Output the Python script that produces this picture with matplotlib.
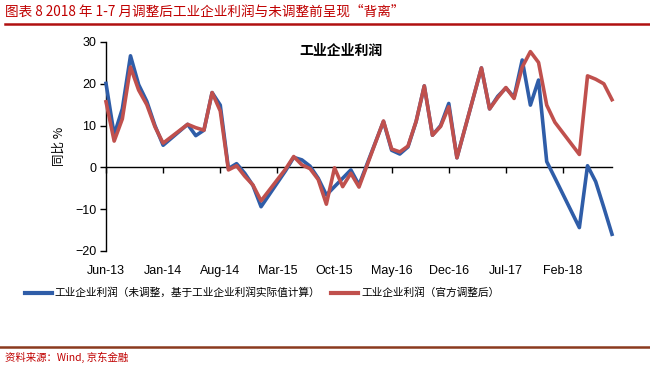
import numpy as np
import matplotlib
matplotlib.use("Agg")
import matplotlib.pyplot as plt
from matplotlib.lines import Line2D

plt.rcParams['font.family'] = ['Liberation Sans', 'Noto Sans CJK SC', 'DejaVu Sans']

# Monthly data May-13 .. Jul-18 (Jan/Feb not published -> None)
months = ["May-13", "Jun-13", "Jul-13", "Aug-13", "Sep-13", "Oct-13", "Nov-13", "Dec-13",
          "Jan-14", "Feb-14", "Mar-14", "Apr-14", "May-14", "Jun-14", "Jul-14", "Aug-14",
          "Sep-14", "Oct-14", "Nov-14", "Dec-14", "Jan-15", "Feb-15", "Mar-15", "Apr-15",
          "May-15", "Jun-15", "Jul-15", "Aug-15", "Sep-15", "Oct-15", "Nov-15", "Dec-15",
          "Jan-16", "Feb-16", "Mar-16", "Apr-16", "May-16", "Jun-16", "Jul-16", "Aug-16",
          "Sep-16", "Oct-16", "Nov-16", "Dec-16", "Jan-17", "Feb-17", "Mar-17", "Apr-17",
          "May-17", "Jun-17", "Jul-17", "Aug-17", "Sep-17", "Oct-17", "Nov-17", "Dec-17",
          "Jan-18", "Feb-18", "Mar-18", "Apr-18", "May-18", "Jun-18", "Jul-18"]

unadjusted = [20.1, 7.8, 14.0, 26.7, 19.8, 15.8, 10.0, 5.3,
              None, None, 10.3, 7.6, 8.9, 17.9, 14.9, -0.3,
              0.9, -1.4, -4.3, -9.4, None, None, -0.8, 2.4,
              1.8, 0.3, -2.6, -6.6, -4.6, -2.6, -0.6, -4.2,
              None, None, 11.0, 4.1, 3.2, 4.9, 11.0, 19.5,
              7.7, 10.0, 15.3, 2.3, None, None, 23.8, 14.0,
              17.0, 19.0, 16.8, 25.7, 14.9, 20.9, 1.4, -2.5,
              None, None, -14.4, 0.4, -3.4, -9.6, -16.0]

official = [15.7, 6.3, 11.6, 24.0, 18.5, 15.0, 9.7, 5.8,
            None, None, 10.3, 9.5, 8.9, 17.9, 13.5, -0.6,
            0.4, -2.1, -4.2, -8.0, None, None, -0.4, 2.6,
            0.6, -0.3, -2.9, -8.8, -0.1, -4.6, -1.4, -4.7,
            None, None, 11.1, 4.4, 3.7, 5.1, 11.0, 19.5,
            7.7, 9.8, 14.5, 2.3, None, None, 23.8, 14.0,
            16.7, 19.1, 16.5, 24.0, 27.7, 25.1, 14.9, 10.8,
            None, None, 3.1, 21.9, 21.1, 20.0, 16.2]

tick_labels = ["Jun-13", "Jan-14", "Aug-14", "Mar-15", "Oct-15", "May-16", "Dec-16", "Jul-17", "Feb-18"]

series_names = ["工业企业利润（未调整，基于工业企业利润实际值计算）", "工业企业利润（官方调整后）"]
blue = '#2F5DA8'
red = '#C0504D'

fig = plt.figure(figsize=(6.5, 3.67), dpi=100)
ax = fig.add_axes([106/650, 1-251/367, (612-106)/650, (251-42)/367])

def plot_series(vals, color, z, label):
    x = np.array([i for i, v in enumerate(vals) if v is not None])
    y = np.array([v for v in vals if v is not None])
    return ax.plot(x, y, color=color, lw=2.6, zorder=z, label=label, clip_on=False)[0]

l1 = plot_series(unadjusted, blue, 3, series_names[0])
l2 = plot_series(official, red, 4, series_names[1])

ax.set_xlim(0, len(months) - 1)
ax.set_ylim(-20, 30)
ax.set_yticks([-20, -10, 0, 10, 20, 30])
ax.tick_params(axis='y', direction='out', length=4, width=1, labelsize=9, pad=3)
for s in ['top', 'right', 'bottom']:
    ax.spines[s].set_visible(False)
ax.spines['left'].set_linewidth(1)

tick_pos = list(range(0, len(months), 7))[:len(tick_labels)]
ax.set_xticks(tick_pos)
ax.set_xticklabels(tick_labels, fontsize=9)
ax.tick_params(axis='x', length=0, pad=10)

# zero line with tick marks
sec = ax.secondary_xaxis(0.4)
sec.set_xticks(tick_pos)
sec.set_xticklabels([])
sec.tick_params(axis='x', direction='out', length=4, width=1)
sec.spines['bottom'].set_linewidth(1)
sec.spines['bottom'].set_zorder(2)

ax.set_ylabel("同比 %", fontsize=9, labelpad=7, family=['Noto Sans CJK SC'])
ax.text(0.465, 0.955, "工业企业利润", transform=ax.transAxes, ha='center', va='center',
        fontsize=10, fontweight='bold', family=['Noto Sans CJK SC'])

leg = fig.legend(handles=[l1, l2], loc='center', bbox_to_anchor=(262/650, 1-293/367),
                 ncol=2, frameon=False, handlelength=2.5, handletextpad=0.3,
                 columnspacing=1.0, prop={'family': ['Noto Sans CJK SC'], 'size': 7.7})
for h in leg.get_lines():
    h.set_linewidth(3)

# title
fig.text(5/650, 1-12/367, "图表 8 2018 年 1-7 月调整后工业企业利润与未调整前呈现“背离”",
         color='#C00000', fontsize=9.8, ha='left', va='center',
         family=['Noto Sans CJK SC', 'DejaVu Sans'])
fig.add_artist(Line2D([5/650, 1], [1-23.5/367, 1-23.5/367], color='#B01010', lw=1.8,
                      transform=fig.transFigure))

# footer
fig.add_artist(Line2D([0, 1], [1-347/367, 1-347/367], color='#8B3A1E', lw=1.8,
                      transform=fig.transFigure))
fig.text(5/650, 1-357/367, "资料来源：Wind, 京东金融", color='#C00000', fontsize=7.5,
         ha='left', va='center', style='italic', family=['Noto Sans CJK SC', 'DejaVu Sans'])

fig.savefig("out.png", dpi=100)
